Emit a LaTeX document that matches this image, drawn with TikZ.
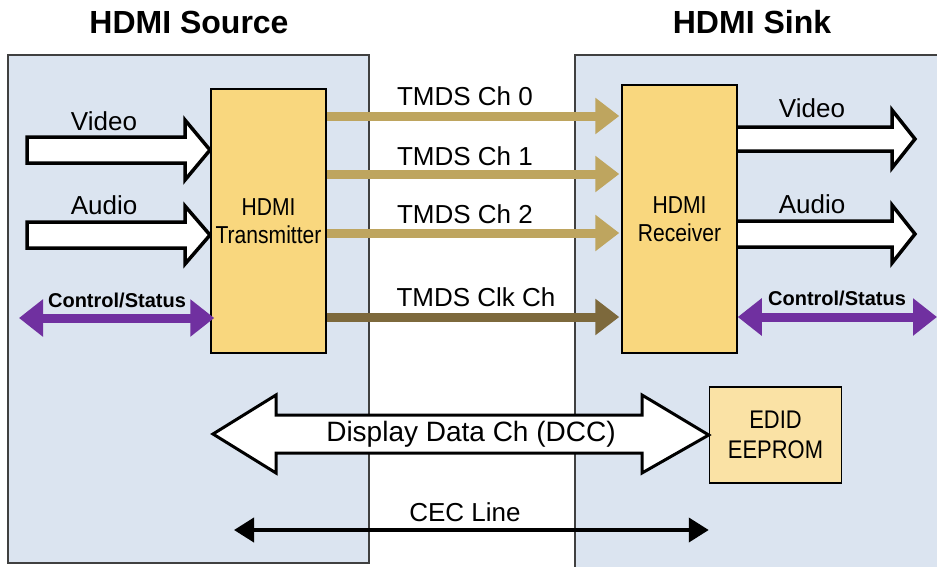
\documentclass[tikz,border=0pt]{standalone}
\usepackage{fontspec}
\setmainfont{Liberation Sans}
\newfontfamily\narrowsans[FakeStretch=0.86]{Liberation Sans}
\usetikzlibrary{arrows.meta,calc}
\definecolor{panelfill}{RGB}{219,228,240}
\definecolor{chipfill}{RGB}{249,215,126}
\definecolor{eepromfill}{RGB}{250,226,165}
\definecolor{tmdscol}{RGB}{190,165,95}
\definecolor{tmdsclk}{RGB}{125,105,60}
\definecolor{ctrlcol}{RGB}{112,48,160}
\definecolor{edgecol}{RGB}{64,64,64}
\begin{document}
\begin{tikzpicture}[x=1pt,y=-1pt,
  panelbox/.style={draw=edgecol,line width=1.5pt,fill=panelfill},
  chipbox/.style={draw=black,line width=1.5pt,fill=chipfill,align=center,
    font=\narrowsans\fontsize{24.5}{28}\selectfont,inner sep=0pt},
  eeprombox/.style={draw=black,line width=1.5pt,fill=eepromfill,align=center,
    font=\narrowsans\fontsize{25.5}{30}\selectfont,inner sep=0pt},
  titletext/.style={font=\bfseries\fontsize{32}{36}\selectfont},
  labeltext/.style={font=\fontsize{26}{30}\selectfont,inner sep=0pt},
  ctrltext/.style={font=\bfseries\fontsize{20}{24}\selectfont,inner sep=0pt},
  tmdsline/.style={draw=tmdscol,line width=9pt,-{Triangle[length=24pt,width=35pt]}},
  clkline/.style={draw=tmdsclk,line width=9pt,-{Triangle[length=24pt,width=35pt]}},
  ctrlline/.style={draw=ctrlcol,line width=9pt,{Triangle[length=24pt,width=36pt]}-{Triangle[length=24pt,width=36pt]}},
  cecline/.style={draw=black,line width=4pt,{Triangle[length=20pt,width=24pt]}-{Triangle[length=20pt,width=24pt]}},
  blockarr/.style={draw=black,line width=3.5pt,fill=white,line join=miter},
]
\useasboundingbox (0,0) rectangle (937,566);

% panels
\path[panelbox] (8,55) rectangle (369,563);
\path[panelbox] (575,55) rectangle (960,590);

% titles
\node[titletext] (tsrc) at (189,22) {HDMI Source};
\node[titletext] (tsnk) at (752,22) {HDMI Sink};

% input block arrows (source side)
\draw[blockarr] (27,137) -- (185,137) -- (185,120) -- (210,150) -- (185,180) -- (185,163) -- (27,163) -- cycle;
\draw[blockarr] (27,222) -- (185,222) -- (185,206) -- (210,235) -- (185,264) -- (185,248) -- (27,248) -- cycle;
\node[labeltext] (vin) at (104,121) {Video};
\node[labeltext] (ain) at (104,205) {Audio};

% output block arrows (sink side)
\draw[blockarr] (735,127) -- (892,127) -- (892,110) -- (915,139) -- (892,168) -- (892,151) -- (735,151) -- cycle;
\draw[blockarr] (735,221) -- (892,221) -- (892,205) -- (915,234) -- (892,263) -- (892,247) -- (735,247) -- cycle;
\node[labeltext] (vout) at (812,108) {Video};
\node[labeltext] (aout) at (812,204) {Audio};

% chips
\node[chipbox,minimum width=115pt,minimum height=264pt] (tx) at (268.5,221) {HDMI\\Transmitter};
\node[chipbox,minimum width=115pt,minimum height=268pt] (rx) at (679.5,219) {HDMI\\Receiver};
\node[eeprombox,minimum width=132pt,minimum height=96pt] (ee) at (775.5,435) {EDID\\EEPROM};

% TMDS channels
\coordinate (c0) at (0,116);
\coordinate (c1) at (0,174);
\coordinate (c2) at (0,233);
\coordinate (cc) at (0,317);
\draw[tmdsline] (tx.east |- c0) -- ([xshift=-2pt]rx.west |- c0);
\draw[tmdsline] (tx.east |- c1) -- ([xshift=-2pt]rx.west |- c1);
\draw[tmdsline] (tx.east |- c2) -- ([xshift=-2pt]rx.west |- c2);
\draw[clkline] (tx.east |- cc) -- ([xshift=-2pt]rx.west |- cc);
\node[labeltext] (l0) at (465,96) {TMDS Ch 0};
\node[labeltext] (l1) at (465,156) {TMDS Ch 1};
\node[labeltext] (l2) at (465,214) {TMDS Ch 2};
\node[labeltext] (lc) at (476,297) {TMDS Clk Ch};

% control/status
\coordinate (csl) at (19,318);
\coordinate (csr) at (937,317);
\draw[ctrlline] (csl) -- ([xshift=4pt]tx.west |- csl);
\draw[ctrlline] (rx.east |- csr) -- (csr);
\node[ctrltext] (ctl) at (117,300) {Control/Status};
\node[ctrltext] (ctr) at (837,298) {Control/Status};

% DDC block arrow
\draw[blockarr,line width=3pt] (213,434) -- (276,395) -- (276,415) -- (642,415) -- (642,395) -- (ee.west) -- (642,473) -- (642,453) -- (276,453) -- (276,473) -- cycle;
\node[labeltext,font=\fontsize{28}{30}\selectfont] (ddc) at (471,434) {Display Data Ch (DCC)};

% CEC line
\coordinate (cecl) at (234,530);
\draw[cecline] (cecl) -- (ee.south west |- cecl);
\node[labeltext] (cec) at (465,512) {CEC Line};
\end{tikzpicture}
\end{document}
